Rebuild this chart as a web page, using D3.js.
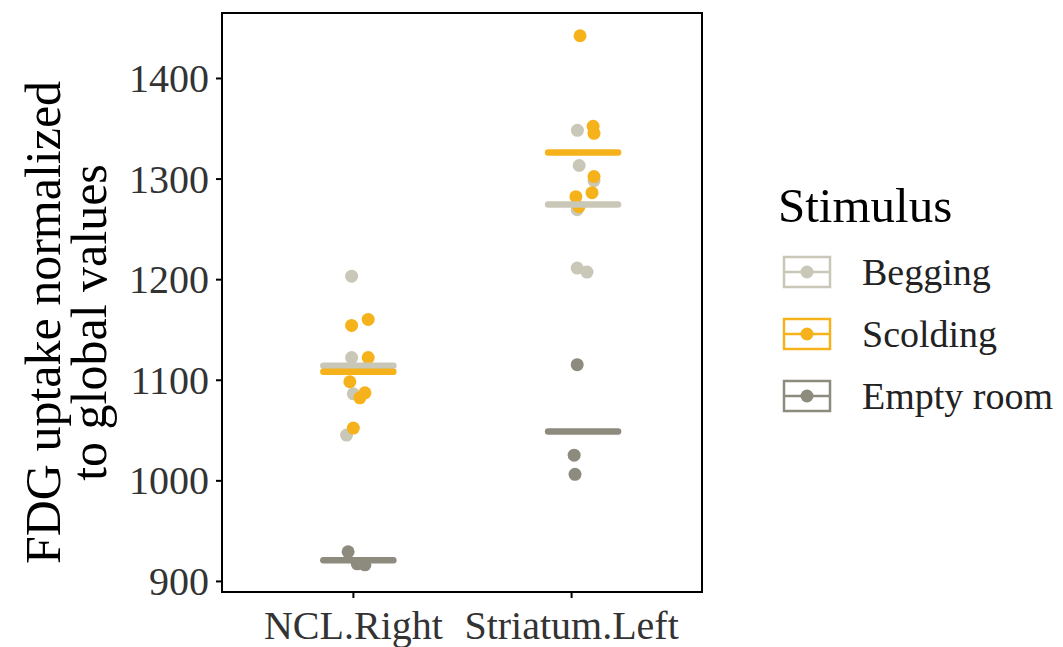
<!DOCTYPE html>
<html>
<head>
<meta charset="utf-8">
<script src="https://cdn.jsdelivr.net/npm/d3@7"></script>
<style>
  html, body { margin: 0; padding: 0; background: #fff; }
  svg { display: block; }
  text { font-family: "Liberation Serif", "DejaVu Serif", serif; }
</style>
</head>
<body>
<svg id="chart" width="1063" height="647"></svg>
<script>
// Brain regions on the x axis
const regions = ["NCL.Right", "Striatum.Left"];

// Playback stimuli (legend order)
const stimuli = ["Begging", "Scolding", "Empty room"];
const stimulusColors = ["#c9c7b7", "#f6b21b", "#8c8b7d"];

// FDG uptake per bird, normalized to global values
const nclBegging    = [1203, 1122, 1086, 1045];
const nclScolding   = [1160, 1154, 1122, 1098, 1087, 1082, 1052];
const nclEmpty      = [929, 916, 917];
const striBegging   = [1348, 1313, 1298, 1269, 1211, 1207];
const striScolding  = [1442, 1352, 1345, 1302, 1286, 1282, 1272];
const striEmpty     = [1115, 1025, 1006];

// Horizontal jitter of each bird, as a fraction of the category step
const nclBeggingJit   = [-0.006, -0.006, 0.002, -0.029];
const nclScoldingJit  = [0.070, -0.006, 0.070, -0.014, 0.055, 0.032, 0.002];
const nclEmptyJit     = [-0.022, 0.055, 0.020];
const striBeggingJit  = [0.029, 0.037, 0.105, 0.028, 0.028, 0.073];
const striScoldingJit = [0.041, 0.101, 0.105, 0.105, 0.096, 0.022, 0.036];
const striEmptyJit    = [0.028, 0.014, 0.018];

// Horizontal shift of the group-mean bars, per region (fraction of step)
const meanShift = [0.025, 0.055];

const yTicks = [900, 1000, 1100, 1200, 1300, 1400];

const groups = [
  { region: 0, stim: 0, values: nclBegging,   jit: nclBeggingJit },
  { region: 0, stim: 1, values: nclScolding,  jit: nclScoldingJit },
  { region: 0, stim: 2, values: nclEmpty,     jit: nclEmptyJit },
  { region: 1, stim: 0, values: striBegging,  jit: striBeggingJit },
  { region: 1, stim: 1, values: striScolding, jit: striScoldingJit },
  { region: 1, stim: 2, values: striEmpty,    jit: striEmptyJit }
];

const svg = d3.select("#chart");
const panel = { left: 222, right: 702, top: 13, bottom: 592 };

const x = d3.scalePoint().domain(regions)
  .range([panel.left, panel.right]).padding(0.6);
const y = d3.scaleLinear().domain([889, 1464.6])
  .range([panel.bottom, panel.top]);
const color = d3.scaleOrdinal().domain(stimuli).range(stimulusColors);
const step = x.step();

// Points, drawn by stimulus order so later groups sit on top
[0, 1, 2].forEach(s => {
  groups.filter(g => g.stim === s).forEach(g => {
    svg.append("g").selectAll("circle")
      .data(g.values.map((v, i) => ({ v, j: g.jit[i] })))
      .join("circle")
      .attr("cx", d => x(regions[g.region]) + d.j * step)
      .attr("cy", d => y(d.v))
      .attr("r", 6.5)
      .attr("fill", color(stimuli[g.stim]));
  });
});

// Group means as thick horizontal bars
const barHalf = 35;
svg.append("g").selectAll("line")
  .data(groups)
  .join("line")
  .attr("x1", g => x(regions[g.region]) + meanShift[g.region] * step - barHalf)
  .attr("x2", g => x(regions[g.region]) + meanShift[g.region] * step + barHalf)
  .attr("y1", g => y(d3.mean(g.values)))
  .attr("y2", g => y(d3.mean(g.values)))
  .attr("stroke", g => color(stimuli[g.stim]))
  .attr("stroke-width", 6.5)
  .attr("stroke-linecap", "round");

// Panel frame
svg.append("rect")
  .attr("x", panel.left).attr("y", panel.top)
  .attr("width", panel.right - panel.left)
  .attr("height", panel.bottom - panel.top)
  .attr("fill", "none").attr("stroke", "#000").attr("stroke-width", 2);

// Axes
const yAxis = svg.append("g")
  .attr("transform", `translate(${panel.left},0)`)
  .call(d3.axisLeft(y).tickValues(yTicks).tickSize(6).tickPadding(7).tickFormat(d3.format("d")));
const xAxis = svg.append("g")
  .attr("transform", `translate(0,${panel.bottom})`)
  .call(d3.axisBottom(x).tickSize(6).tickPadding(5));
[yAxis, xAxis].forEach(a => {
  a.select(".domain").remove();
  a.selectAll(".tick line").attr("stroke", "#000").attr("stroke-width", 2);
  a.selectAll(".tick text")
    .attr("fill", "#333")
    .style("font-size", "40px")
    .style("font-family", "'Liberation Serif', serif");
});
xAxis.selectAll(".tick text").attr("dy", "0.9em");
yAxis.selectAll(".tick text").attr("dy", "0.34em");

// Y axis title (two lines)
const yTitle = svg.append("text")
  .attr("transform", `translate(0,${(panel.top + panel.bottom) / 2 + 20}) rotate(-90)`)
  .attr("text-anchor", "middle")
  .style("font-size", "50px")
  .attr("fill", "#000");
yTitle.append("tspan").attr("x", 0).attr("y", 60).text("FDG uptake normalized");
yTitle.append("tspan").attr("x", 0).attr("y", 106).text("to global values");

// Legend
const legend = svg.append("g").attr("transform", "translate(778,0)");
legend.append("text")
  .attr("x", 0).attr("y", 222)
  .style("font-size", "49px")
  .attr("fill", "#000")
  .text("Stimulus");

const keyRows = legend.selectAll("g.key")
  .data(stimuli)
  .join("g")
  .attr("class", "key")
  .attr("transform", (d, i) => `translate(0,${272 + i * 62})`);

keyRows.append("rect")
  .attr("x", 6).attr("y", -15)
  .attr("width", 46).attr("height", 30)
  .attr("fill", "none")
  .attr("stroke", d => color(d))
  .attr("stroke-width", 2.5);
keyRows.append("line")
  .attr("x1", 6).attr("x2", 52)
  .attr("y1", 0).attr("y2", 0)
  .attr("stroke", d => color(d))
  .attr("stroke-width", 2.5);
keyRows.append("circle")
  .attr("cx", 29).attr("cy", 0).attr("r", 6.5)
  .attr("fill", d => color(d));
keyRows.append("text")
  .attr("x", 84).attr("y", 0).attr("dy", "0.34em")
  .style("font-size", "38px")
  .attr("fill", "#222")
  .text(d => d);
</script>
</body>
</html>
